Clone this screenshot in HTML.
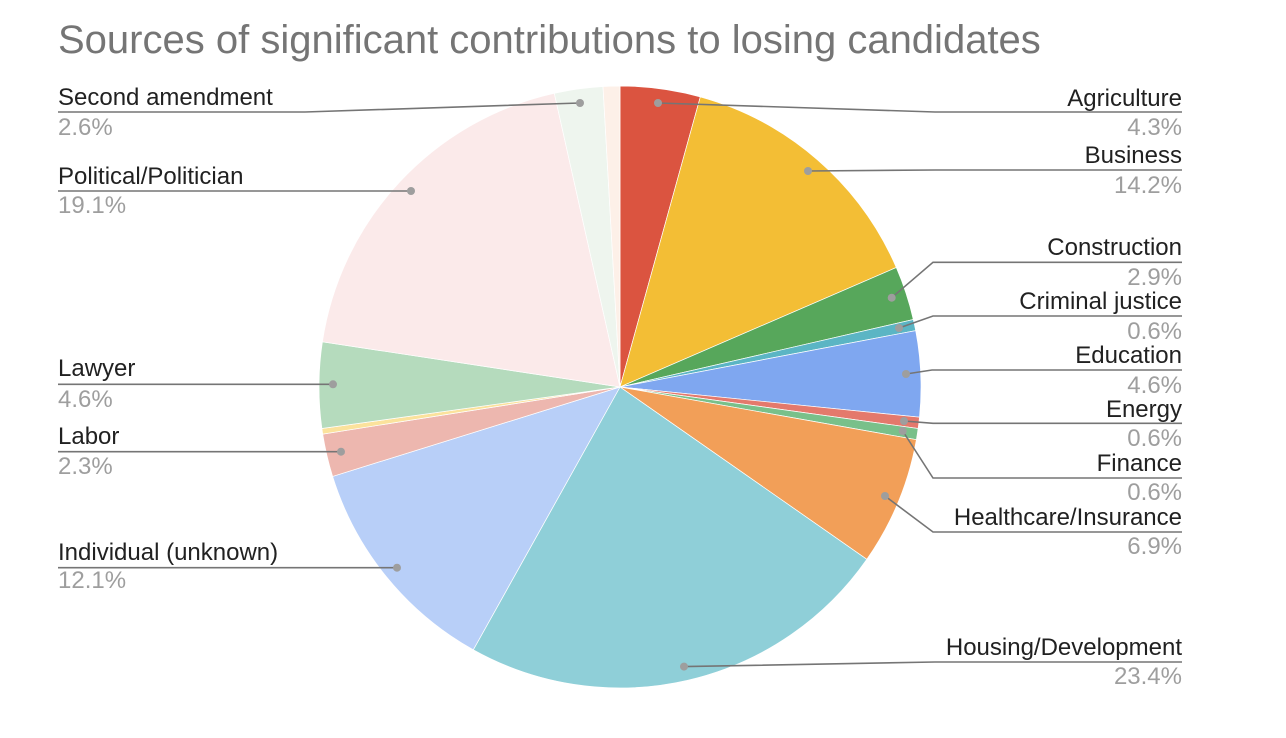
<!DOCTYPE html>
<html>
<head>
<meta charset="utf-8">
<style>
  html, body { margin:0; padding:0; background:#fff; }
  svg { display:block; }
  text { font-family: "Liberation Sans", Arial, sans-serif; }
  .lbl { font-size:24px; fill:#212121; }
  .pct { font-size:24px; fill:#9e9e9e; }
  .ld { fill:none; stroke:#757575; stroke-width:1.6; }
  .dot { fill:#9e9e9e; }
</style>
</head>
<body>
<svg width="1286" height="738" viewBox="0 0 1286 738" xmlns="http://www.w3.org/2000/svg">
  <rect width="1286" height="738" fill="#fff"/>
  <text x="58" y="53" style="font-size:40px; fill:#757575;">Sources of significant contributions to losing candidates</text>

  <g stroke="#ffffff" stroke-width="0.7">
    <path d="M620,387 L620,86 A301,301 0 0 1 700.3,96.9 Z" fill="#db5440"/>
    <path d="M620,387 L700.3,96.9 A301,301 0 0 1 896.3,267.5 Z" fill="#f3be35"/>
    <path d="M620,387 L896.3,267.5 A301,301 0 0 1 913.3,319.5 Z" fill="#57a75b"/>
    <path d="M620,387 L913.3,319.5 A301,301 0 0 1 915.7,330.6 Z" fill="#5bb5c4"/>
    <path d="M620,387 L915.7,330.6 A301,301 0 0 1 919.5,417.2 Z" fill="#7fa7f0"/>
    <path d="M620,387 L919.5,417.2 A301,301 0 0 1 918.1,428.5 Z" fill="#e4796c"/>
    <path d="M620,387 L918.1,428.5 A301,301 0 0 1 916.4,439.7 Z" fill="#79c08a"/>
    <path d="M620,387 L916.4,439.7 A301,301 0 0 1 866.8,559.3 Z" fill="#f29f58"/>
    <path d="M620,387 L866.8,559.3 A301,301 0 0 1 473.3,649.8 Z" fill="#8fcfd8"/>
    <path d="M620,387 L473.3,649.8 A301,301 0 0 1 332.6,476.4 Z" fill="#b8cff8"/>
    <path d="M620,387 L332.6,476.4 A301,301 0 0 1 322.7,434.1 Z" fill="#edb7af"/>
    <path d="M620,387 L322.7,434.1 A301,301 0 0 1 321.9,428.5 Z" fill="#fbe29c"/>
    <path d="M620,387 L321.9,428.5 A301,301 0 0 1 322.4,341.8 Z" fill="#b5dbbd"/>
    <path d="M620,387 L322.4,341.8 A301,301 0 0 1 554.3,93.3 Z" fill="#fbeaea"/>
    <path d="M620,387 L554.3,93.3 A301,301 0 0 1 603.0,86.5 Z" fill="#eef5ee"/>
    <path d="M620,387 L603.0,86.5 A301,301 0 0 1 620,86 Z" fill="#fdf0e8"/>
  </g>

  <!-- leader lines -->
  <polyline class="ld" points="658,103 935,112 1182,112"/>
  <polyline class="ld" points="808,171 935,170 1182,170"/>
  <polyline class="ld" points="891.7,297.7 933,262.3 1182,262.3"/>
  <polyline class="ld" points="899,328 933,316 1182,316"/>
  <polyline class="ld" points="906,374 932,370 1182,370"/>
  <polyline class="ld" points="904,421 933,423.3 1182,423.3"/>
  <polyline class="ld" points="902.7,431 933,478 1182,478"/>
  <polyline class="ld" points="885,496 933,532 1182,532"/>
  <polyline class="ld" points="684,666.6 935,662 1182,662"/>
  <polyline class="ld" points="580,103 305,112 58,112"/>
  <polyline class="ld" points="411,191 58,191"/>
  <polyline class="ld" points="333,384.3 58,384.3"/>
  <polyline class="ld" points="341,451.7 58,451.7"/>
  <polyline class="ld" points="397,567.7 58,567.7"/>

  <!-- dots -->
  <circle class="dot" cx="658" cy="103" r="4"/>
  <circle class="dot" cx="808" cy="171" r="4"/>
  <circle class="dot" cx="891.7" cy="297.7" r="4"/>
  <circle class="dot" cx="899" cy="328" r="4"/>
  <circle class="dot" cx="906" cy="374" r="4"/>
  <circle class="dot" cx="904" cy="421" r="4"/>
  <circle class="dot" cx="902.7" cy="431" r="4"/>
  <circle class="dot" cx="885" cy="496" r="4"/>
  <circle class="dot" cx="684" cy="666.6" r="4"/>
  <circle class="dot" cx="580" cy="103" r="4"/>
  <circle class="dot" cx="411" cy="191" r="4"/>
  <circle class="dot" cx="333" cy="384.3" r="4"/>
  <circle class="dot" cx="341" cy="451.7" r="4"/>
  <circle class="dot" cx="397" cy="567.7" r="4"/>

  <!-- right labels -->
  <g text-anchor="end">
    <text class="lbl" x="1182" y="106">Agriculture</text>
    <text class="pct" x="1182" y="135">4.3%</text>
    <text class="lbl" x="1182" y="163">Business</text>
    <text class="pct" x="1182" y="193">14.2%</text>
    <text class="lbl" x="1182" y="255">Construction</text>
    <text class="pct" x="1182" y="285">2.9%</text>
    <text class="lbl" x="1182" y="309">Criminal justice</text>
    <text class="pct" x="1182" y="339">0.6%</text>
    <text class="lbl" x="1182" y="363">Education</text>
    <text class="pct" x="1182" y="393">4.6%</text>
    <text class="lbl" x="1182" y="417">Energy</text>
    <text class="pct" x="1182" y="446">0.6%</text>
    <text class="lbl" x="1182" y="471">Finance</text>
    <text class="pct" x="1182" y="500">0.6%</text>
    <text class="lbl" x="1182" y="525">Healthcare/Insurance</text>
    <text class="pct" x="1182" y="554">6.9%</text>
    <text class="lbl" x="1182" y="655">Housing/Development</text>
    <text class="pct" x="1182" y="684">23.4%</text>
  </g>

  <!-- left labels -->
  <g text-anchor="start">
    <text class="lbl" x="58" y="105">Second amendment</text>
    <text class="pct" x="58" y="135">2.6%</text>
    <text class="lbl" x="58" y="184">Political/Politician</text>
    <text class="pct" x="58" y="213">19.1%</text>
    <text class="lbl" x="58" y="376">Lawyer</text>
    <text class="pct" x="58" y="407">4.6%</text>
    <text class="lbl" x="58" y="444">Labor</text>
    <text class="pct" x="58" y="474">2.3%</text>
    <text class="lbl" x="58" y="560">Individual (unknown)</text>
    <text class="pct" x="58" y="588">12.1%</text>
  </g>
</svg>
</body>
</html>
